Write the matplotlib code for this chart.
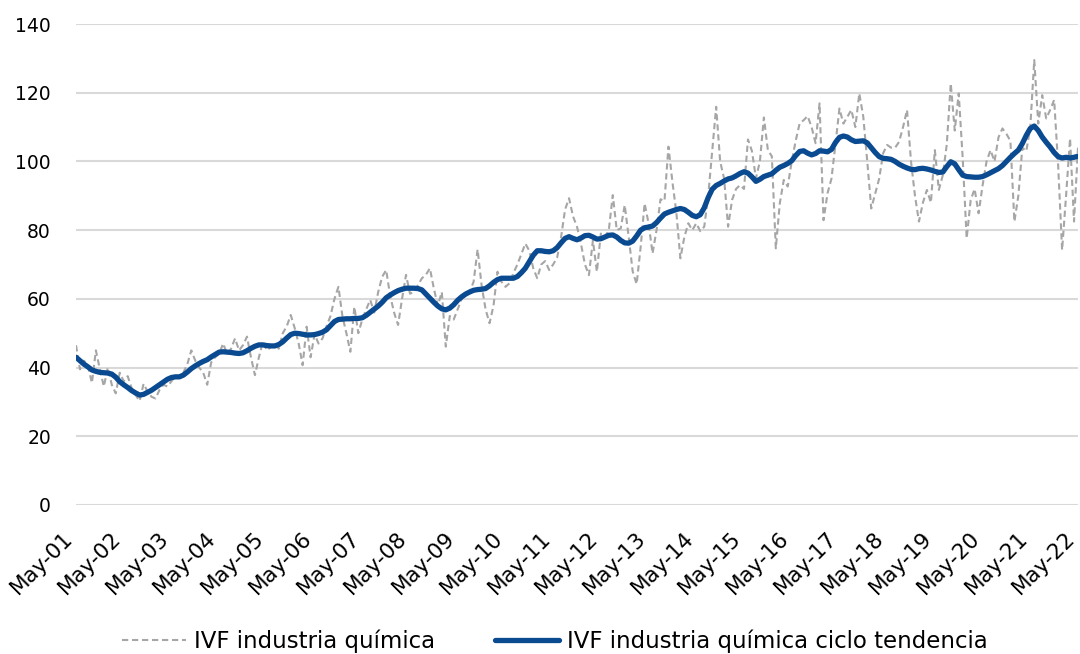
import matplotlib
matplotlib.use("Agg")
import matplotlib.pyplot as plt
import matplotlib.transforms as mtransforms
import numpy as np

plt.rcParams['font.family'] = ['DejaVu Sans']

# Monthly values, May-01 .. May-22 (one row per May..April year)
ivf = [
    46.5, 39.5, 42.0, 40.5, 35.5, 45.0, 39.5, 34.5, 40.0, 35.0, 32.5, 38.5,
    36.0, 37.5, 34.0, 32.0, 30.3, 35.3, 33.0, 31.5, 31.0, 33.5, 35.0, 34.5,
    36.0, 37.5, 37.0, 38.5, 41.0, 45.0, 42.0, 40.0, 38.5, 35.0, 41.5, 43.0,
    44.0, 47.0, 44.0, 45.5, 48.5, 45.0, 46.5, 49.0, 43.0, 37.8, 43.0, 47.5,
    45.0, 46.0, 47.0, 45.5, 50.0, 52.0, 55.3, 51.5, 47.0, 40.7, 51.9, 43.0,
    49.7, 47.0, 48.5, 52.0, 55.0, 60.0, 63.5, 55.0, 50.0, 44.6, 57.7, 50.0,
    54.0, 57.0, 59.7, 56.0, 62.0, 66.4, 68.4, 61.0, 56.0, 52.4, 60.0, 67.0,
    61.5, 62.0, 64.0, 66.0, 67.0, 68.9, 63.0, 58.0, 62.0, 46.1, 55.0, 54.0,
    57.0, 60.0, 61.0, 62.0, 65.0, 74.4, 64.0, 57.0, 52.9, 58.0, 67.9, 65.0,
    63.5, 64.5, 67.5, 70.0, 73.0, 76.1, 74.0, 68.9, 66.0, 70.0, 71.0, 68.4,
    70.0, 72.0, 78.0, 86.0, 89.3, 84.0, 81.0, 76.0, 70.0, 66.9, 77.0, 67.9,
    79.0, 78.0, 80.0, 90.2, 80.0, 80.5, 87.3, 78.0, 68.0, 64.3, 75.0, 87.8,
    82.0, 73.2, 80.0, 89.0, 88.5, 104.3, 94.0, 85.0, 71.8, 78.0, 82.0, 80.0,
    82.0, 79.7, 81.0, 90.0, 103.0, 115.9, 100.0, 95.0, 81.0, 88.8, 92.0, 93.1,
    92.0, 106.4, 103.0, 95.1, 100.0, 112.8, 103.3, 101.5, 74.7, 87.8, 94.6, 92.7,
    100.0, 106.0, 111.1, 112.0, 113.2, 110.0, 105.3, 116.9, 82.9, 90.7, 95.0, 105.0,
    115.4, 111.0, 113.0, 115.0, 110.0, 119.8, 113.0, 100.0, 86.3, 90.7, 95.0, 102.4,
    104.8, 104.0, 104.0, 105.7, 110.0, 115.0, 100.0, 90.0, 82.5, 88.0, 91.7, 88.0,
    103.3, 91.7, 96.0, 105.0, 122.7, 109.0, 119.8, 101.0, 77.6, 88.7, 92.0, 84.9,
    93.0, 100.0, 103.3, 100.0, 107.0, 109.6, 108.0, 106.0, 82.5, 90.0, 104.0, 103.0,
    110.0, 129.5, 111.0, 119.3, 112.5, 115.0, 117.9, 99.0, 74.2, 90.0, 106.7, 82.5,
    104.0,
]

ciclo_tendencia = [
    43.0, 42.0, 41.0, 40.2, 39.3, 38.9, 38.6, 38.5, 38.4, 38.1, 37.2, 35.9,
    35.0, 34.2, 33.3, 32.6, 32.0, 32.2, 32.8, 33.4, 34.2, 35.0, 35.8, 36.6,
    37.1, 37.3, 37.3, 37.8, 38.7, 39.7, 40.5, 41.2, 41.8, 42.3, 43.1, 43.8,
    44.5, 44.6, 44.5, 44.4, 44.2, 44.1, 44.3, 44.9, 45.6, 46.2, 46.6, 46.6,
    46.4, 46.3, 46.3, 46.7, 47.5, 48.6, 49.6, 50.0, 49.9, 49.7, 49.5, 49.5,
    49.6, 49.9, 50.3, 51.0, 52.2, 53.4, 54.0, 54.1, 54.2, 54.2, 54.3, 54.3,
    54.5, 55.2, 56.1, 57.0, 57.9, 59.0, 60.3, 61.1, 61.8, 62.4, 62.8, 63.1,
    63.1, 63.1, 63.0, 62.6, 61.4, 60.2, 59.0, 57.9, 57.1, 56.8, 57.3, 58.3,
    59.6, 60.6, 61.4, 62.0, 62.5, 62.7, 62.8, 63.0, 63.8, 64.8, 65.6, 66.0,
    66.0, 66.0, 66.0, 66.5, 67.6, 68.9, 70.8, 72.7, 74.0, 74.0, 73.8, 73.7,
    74.0, 74.9, 76.3, 77.6, 78.1, 77.6, 77.2, 77.7, 78.4, 78.5, 78.0, 77.4,
    77.5, 78.0, 78.5, 78.6, 78.0, 77.0, 76.3, 76.2, 76.8, 78.3, 80.0, 80.7,
    80.9, 81.2, 82.2, 83.5, 84.7, 85.2, 85.6, 86.0, 86.3, 86.0, 85.2, 84.3,
    83.9, 84.5, 86.5, 89.5, 91.9, 93.0, 93.6, 94.3, 94.9, 95.2, 95.8, 96.5,
    97.0, 96.6, 95.5, 94.2, 94.8, 95.6, 96.0, 96.4, 97.4, 98.3, 98.8, 99.4,
    100.2, 101.7, 102.9, 103.1, 102.4, 101.9, 102.3, 103.1, 103.0, 102.8, 103.5, 105.5,
    107.0, 107.4, 107.1, 106.3, 105.8, 105.9, 106.0, 105.4, 104.0, 102.6, 101.4, 100.9,
    100.8, 100.6, 100.0, 99.2, 98.6, 98.1, 97.7, 97.6, 97.9, 98.0, 97.8, 97.5,
    97.1, 96.8, 96.9, 98.5, 99.9, 99.3, 97.6, 96.0, 95.6, 95.5, 95.4, 95.4,
    95.6, 96.1, 96.7, 97.3, 97.9, 98.8, 100.0, 101.2, 102.3, 103.3, 105.2, 107.6,
    109.6, 110.3, 109.0, 107.1, 105.6, 104.2, 102.6, 101.4, 101.0, 101.2, 101.0, 101.2,
    101.5,
]

tick_labels = ["May-01", "May-02", "May-03", "May-04", "May-05", "May-06", "May-07",
               "May-08", "May-09", "May-10", "May-11", "May-12", "May-13", "May-14",
               "May-15", "May-16", "May-17", "May-18", "May-19", "May-20", "May-21",
               "May-22"]
y_ticks = [0, 20, 40, 60, 80, 100, 120, 140]

x = np.arange(len(ivf))

fig = plt.figure(figsize=(10.8, 6.54), dpi=100)
ax = fig.add_axes([76/1080, 1-505/654, (1078-76)/1080, (505-24)/654])

ax.plot(x, ivf, color='#a6a6a6', lw=1.5, ls=(0, (3, 1.8)), label='IVF industria química')
ax.plot(x, ciclo_tendencia, color='#0a4a91', lw=3.8, label='IVF industria química ciclo tendencia',
        solid_capstyle='round')

ax.set_ylim(0, 140)
ax.set_xlim(0, len(ivf)-1)
ax.set_yticks(y_ticks)
tick_pos = np.arange(0, len(ivf), 12)
ax.set_xticks(tick_pos)
ax.set_xticklabels([])
label_tr = ax.get_xaxis_transform() + mtransforms.ScaledTranslation(-6/100, -30/100,
                                                                    fig.dpi_scale_trans)
for pos, lab in zip(tick_pos, tick_labels):
    ax.text(pos, 0, lab, transform=label_tr, rotation=45, ha='right', va='center',
            rotation_mode='anchor', fontsize=15.5, color='black', clip_on=False)
ax.tick_params(axis='y', length=0, labelsize=13.5, colors='black', pad=18)
ax.tick_params(axis='x', length=0)
ax.grid(axis='y', color='#d9d9d9', lw=1.5)
ax.set_axisbelow(True)
for s in ax.spines.values():
    s.set_visible(False)

fig.legend(loc='center', bbox_to_anchor=(555/1080, 1-641/654), ncol=2, frameon=False,
           fontsize=16.5, handlelength=2.8, columnspacing=2.6, handletextpad=0.35)

fig.savefig('out.png', dpi=100)
